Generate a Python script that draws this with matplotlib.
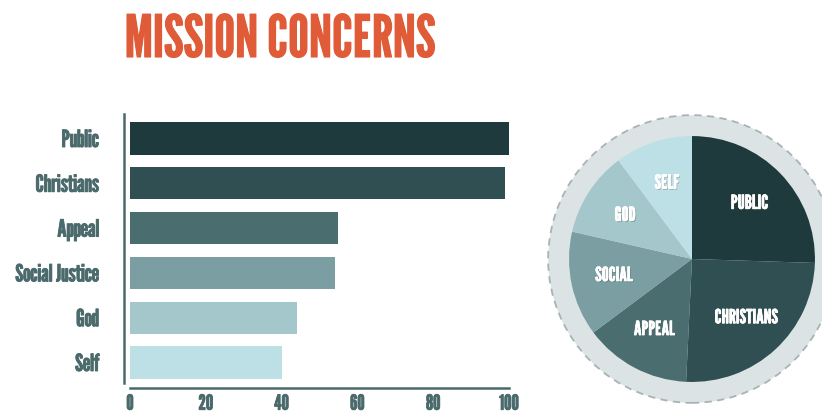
import matplotlib
matplotlib.use("Agg")
import matplotlib.pyplot as plt
from matplotlib.patches import Circle
import matplotlib.patheffects as pe

categories = ["Public", "Christians", "Appeal", "Social Justice", "God", "Self"]
values = [100, 99, 55, 54, 44, 40]
pie_labels = ["PUBLIC", "CHRISTIANS", "APPEAL", "SOCIAL", "GOD", "SELF"]
colors = ["#1f3a3c", "#2f4f52", "#4a6d6f", "#7a9ea1", "#a4c7cc", "#bde0e6"]
xticks = [0, 20, 40, 60, 80, 100]
title = "MISSION CONCERNS"

FONT = ["League Gothic", "DejaVu Sans"]
plt.rcParams["font.family"] = FONT

fig = plt.figure(figsize=(8.22, 4.14), dpi=100)
fig.patch.set_facecolor("white")

label_color = "#4b6a6c"
bold_fx = [pe.withStroke(linewidth=0.6, foreground=label_color)]

# Bar chart
ax = fig.add_axes([130 / 822, 1 - 385 / 414, 379 / 822, 267 / 414])
for s in ["top", "right"]:
    ax.spines[s].set_visible(False)
ax.spines["left"].set_position(("outward", 4))
ax.spines["bottom"].set_position(("outward", 3))
for s in ["left", "bottom"]:
    ax.spines[s].set_color(label_color)
    ax.spines[s].set_linewidth(1.8)

ypos = list(range(len(categories)))
ax.barh(ypos, values, height=0.72, color=colors, left=0)
ax.set_xlim(0, 100)
ax.set_ylim(len(categories) - 0.52, -0.48)
ax.spines["left"].set_bounds(len(categories) - 0.55, -0.54)
ax.set_yticks(ypos)
ax.set_yticklabels(categories)
ax.set_xticks(xticks)
ax.set_xticklabels([str(t) for t in xticks])
ax.tick_params(axis="y", length=0, pad=18, labelsize=17, labelcolor=label_color)
ax.tick_params(axis="x", length=0, pad=4, labelsize=15, labelcolor=label_color)
for lab in ax.get_yticklabels() + ax.get_xticklabels():
    lab.set_path_effects(bold_fx)

# Pie chart
pax = fig.add_axes([(692 - 150) / 822, (414 - 260 - 150) / 414, 300 / 822, 300 / 414])
pax.set_aspect("equal")
pax.axis("off")
ring = Circle((0, 0), 1.17, facecolor="#dce3e4", edgecolor="#a9b2b4",
              linestyle=(0, (4, 3)), linewidth=1.3, zorder=0)
pax.add_patch(ring)
wedges, texts = pax.pie(values, labels=pie_labels, colors=colors, startangle=90,
                        counterclock=False, labeldistance=0.65, radius=1.0,
                        wedgeprops=dict(linewidth=0),
                        textprops=dict(color="white", fontsize=14,
                                       ha="center", va="center"))
for t in texts:
    t.set_horizontalalignment("center")
    t.set_path_effects([pe.withSimplePatchShadow(offset=(0.8, -0.8), alpha=0.35),
                        pe.withStroke(linewidth=0.4, foreground="white")])
pax.set_xlim(-1.22, 1.22)
pax.set_ylim(-1.22, 1.22)

fig.text(280 / 822, 1 - 58 / 414, title, fontsize=42, color="#e05b37",
         ha="center", va="baseline",
         path_effects=[pe.withStroke(linewidth=0.8, foreground="#e05b37")])

fig.savefig("out.png", dpi=100, facecolor="white")
